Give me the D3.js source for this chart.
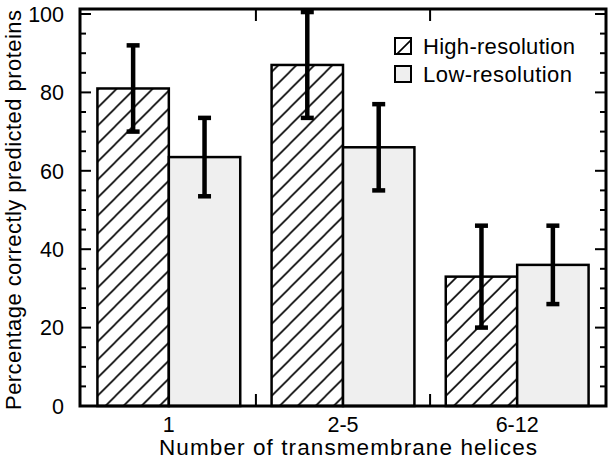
<!DOCTYPE html>
<html>
<head>
<meta charset="utf-8">
<script src="https://cdn.jsdelivr.net/npm/d3@7"></script>
<style>
  html, body { margin: 0; padding: 0; background: #fff; }
  svg { display: block; }
  text { font-family: "Liberation Sans", Arial, Helvetica, sans-serif; fill: #000; }
</style>
</head>
<body>
<svg id="chart" width="612" height="461"></svg>
<script>
// ---- data ----
const categories = ["1", "2-5", "6-12"];
const seriesNames = ["High-resolution", "Low-resolution"];
const highRes = [81, 87, 33];
const highErr = [11, 13.5, 13];
const lowRes = [63.5, 66, 36];
const lowErr = [10, 11, 10];
const yTickLabels = [0, 20, 40, 60, 80, 100];

(function () {
const svg = d3.select("#chart");
const pL = 80, pR = 606, pT = 9, pB = 406;

const y = d3.scaleLinear().domain([0, 100]).range([pB, 14]);
const yMax = y.invert(pT);
const x0 = d3.scaleBand().domain(categories).range([pL, pR]).paddingInner(0.18).paddingOuter(0.1);
const x1 = d3.scaleBand().domain(seriesNames).range([0, x0.bandwidth()]);

// hatch pattern
const defs = svg.append("defs");
const pat = defs.append("pattern").attr("id", "hatch").attr("patternUnits", "userSpaceOnUse")
  .attr("width", 18).attr("height", 18);
pat.append("rect").attr("width", 18).attr("height", 18).attr("fill", "#fff");
pat.append("path").attr("d", "M-2,2 L2,-2 M0,18 L18,0 M16,20 L20,16")
  .attr("stroke", "#000").attr("stroke-width", 1.6);

const rows = categories.map((c, i) => ({
  c,
  vals: [
    { s: seriesNames[0], v: highRes[i], e: highErr[i] },
    { s: seriesNames[1], v: lowRes[i], e: lowErr[i] }
  ]
}));

const fills = { "High-resolution": "url(#hatch)", "Low-resolution": "#efefef" };

// bars
const g = svg.append("g");
const groups = g.selectAll("g.grp").data(rows).join("g").attr("class", "grp")
  .attr("transform", d => `translate(${x0(d.c)},0)`);
groups.selectAll("rect").data(d => d.vals).join("rect")
  .attr("x", d => x1(d.s))
  .attr("y", d => y(d.v))
  .attr("width", x1.bandwidth())
  .attr("height", d => y(0) - y(d.v))
  .attr("fill", d => fills[d.s])
  .attr("stroke", "#000").attr("stroke-width", 2.5);

// error bars
const capW = 13;
groups.selectAll("g.err").data(d => d.vals).join("g").attr("class", "err").each(function (d) {
  const cx = x1(d.s) + x1.bandwidth() / 2;
  const gg = d3.select(this);
  const hi = Math.min(d.v + d.e, yMax), lo = d.v - d.e;
  gg.append("line").attr("x1", cx).attr("x2", cx).attr("y1", y(hi)).attr("y2", y(lo))
    .attr("stroke", "#000").attr("stroke-width", 4.5);
  [hi, lo].forEach(v => {
    gg.append("line").attr("x1", cx - capW / 2).attr("x2", cx + capW / 2)
      .attr("y1", y(v)).attr("y2", y(v)).attr("stroke", "#000").attr("stroke-width", 4.5);
  });
});

// frame
svg.append("rect").attr("x", pL).attr("y", pT).attr("width", pR - pL).attr("height", pB - pT)
  .attr("fill", "none").attr("stroke", "#000").attr("stroke-width", 3);

// y ticks (inward, both sides)
const ticks = y.ticks(20);
const tk = svg.append("g");
ticks.forEach(t => {
  const major = t % 20 === 0;
  const len = major ? 11 : 6;
  tk.append("line").attr("x1", pL).attr("x2", pL + len).attr("y1", y(t)).attr("y2", y(t))
    .attr("stroke", "#000").attr("stroke-width", 2);
  tk.append("line").attr("x1", pR).attr("x2", pR - len).attr("y1", y(t)).attr("y2", y(t))
    .attr("stroke", "#000").attr("stroke-width", 2);
});
svg.append("g").selectAll("text").data(yTickLabels).join("text")
  .attr("x", 64).attr("y", d => y(d)).attr("dy", "0.36em")
  .attr("text-anchor", "end").attr("font-size", 21.5).text(d => d);

// x group boundary ticks
const bounds = categories.slice(1).map((c, i) => (x0(categories[i]) + x0.bandwidth() + x0(c)) / 2);
bounds.forEach(bx => {
  svg.append("line").attr("x1", bx).attr("x2", bx).attr("y1", pB).attr("y2", pB - 12)
    .attr("stroke", "#000").attr("stroke-width", 2);
  svg.append("line").attr("x1", bx).attr("x2", bx).attr("y1", pT).attr("y2", pT + 12)
    .attr("stroke", "#000").attr("stroke-width", 2);
});

// x tick labels
svg.append("g").selectAll("text").data(categories).join("text")
  .attr("x", d => x0(d) + x0.bandwidth() / 2).attr("y", 432)
  .attr("text-anchor", "middle").attr("font-size", 21.5).text(d => d);

// axis titles
svg.append("text").attr("x", 348).attr("y", 455).attr("text-anchor", "middle")
  .attr("font-size", 22.5).attr("textLength", 378).attr("lengthAdjust", "spacing")
  .text("Number of transmembrane helices");
svg.append("text").attr("transform", "translate(21,210) rotate(-90)").attr("text-anchor", "middle")
  .attr("font-size", 22).attr("textLength", 400).attr("lengthAdjust", "spacing")
  .text("Percentage correctly predicted proteins");

// legend
const lg = svg.append("g").attr("transform", "translate(395,38)");
const legW = [152, 149];
seriesNames.forEach((s, i) => {
  const row = lg.append("g").attr("transform", `translate(0,${i * 28})`);
  row.append("rect").attr("x", 0).attr("y", 0).attr("width", 16).attr("height", 16)
    .attr("fill", fills[s]).attr("stroke", "#000").attr("stroke-width", 2);
  row.append("text").attr("x", 28).attr("y", 16).attr("font-size", 22)
    .attr("textLength", legW[i]).attr("lengthAdjust", "spacing").text(s);
});
})();
</script>
</body>
</html>
